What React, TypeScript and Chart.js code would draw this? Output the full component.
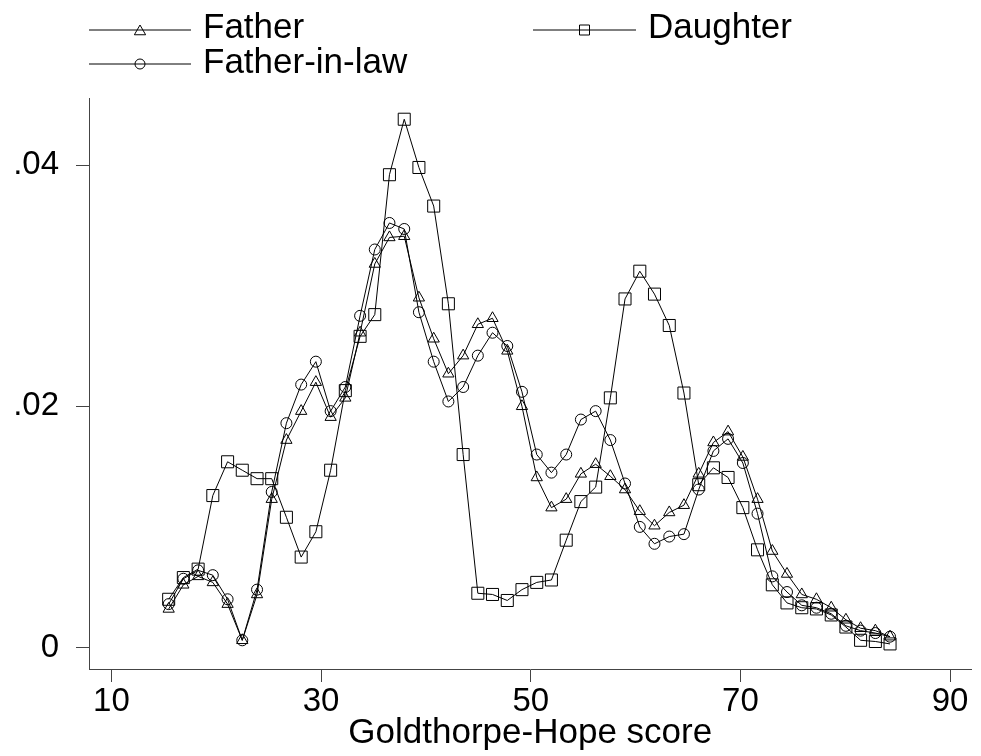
import React, { useEffect, useRef } from 'react';
import { Chart, registerables } from 'chart.js';

Chart.register(...registerables);

// Goldthorpe-Hope score grid (x) at which densities were evaluated
const ghScore = [
  15.46, 16.86, 18.27, 19.67, 21.08, 22.48, 23.89, 25.29, 26.69, 28.1,
  29.5, 30.91, 32.31, 33.72, 35.12, 36.52, 37.93, 39.33, 40.74, 42.14,
  43.55, 44.95, 46.35, 47.76, 49.16, 50.57, 51.97, 53.38, 54.78, 56.19,
  57.59, 58.99, 60.4, 61.8, 63.21, 64.61, 66.02, 67.42, 68.82, 70.23,
  71.63, 73.04, 74.44, 75.85, 77.25, 78.66, 80.06, 81.46, 82.87, 84.27,
];

const fatherDensity = [
  0.0032, 0.0052, 0.0059, 0.0054, 0.0036, 0.0006, 0.0044, 0.0123, 0.0172, 0.0196,
  0.022, 0.0191, 0.0207, 0.0261, 0.0318, 0.034, 0.0341, 0.029, 0.0256, 0.0227,
  0.0242, 0.0268, 0.0273, 0.0246, 0.02, 0.0141, 0.0116, 0.0123, 0.0144, 0.0152,
  0.0142, 0.0131, 0.0113, 0.0101, 0.0112, 0.0118, 0.0144, 0.017, 0.0179, 0.0158,
  0.0123, 0.008, 0.0061, 0.0044, 0.004, 0.0033, 0.0023, 0.0016, 0.0014, 0.0009,
];

const fatherInLawDensity = [
  0.0036, 0.0057, 0.0064, 0.006, 0.004, 0.0006, 0.0048, 0.0129, 0.0186, 0.0218,
  0.0237, 0.0196, 0.0216, 0.0275, 0.033, 0.0352, 0.0347, 0.0278, 0.0237, 0.0204,
  0.0216, 0.0242, 0.0261, 0.025, 0.0212, 0.016, 0.0145, 0.016, 0.0189, 0.0196,
  0.0172, 0.0136, 0.01, 0.0086, 0.0092, 0.0094, 0.0131, 0.0163, 0.0173, 0.0153,
  0.0111, 0.0059, 0.0046, 0.0035, 0.0033, 0.0028, 0.0018, 0.0014, 0.0012, 0.0009,
];

const daughterDensity = [
  0.004, 0.0058, 0.0065, 0.0126, 0.0154, 0.0147, 0.014, 0.014, 0.0108, 0.0075,
  0.0096, 0.0147, 0.0213, 0.0258, 0.0276, 0.0392, 0.0438, 0.0398, 0.0366, 0.0285,
  0.016, 0.0045, 0.0044, 0.0039, 0.0048, 0.0054, 0.0056, 0.0089, 0.0121, 0.0133,
  0.0207, 0.0289, 0.0312, 0.0293, 0.0267, 0.0211, 0.0135, 0.0149, 0.0141, 0.0116,
  0.0081, 0.0052, 0.0037, 0.0033, 0.0032, 0.0027, 0.0017, 0.0006, 0.0005, 0.0003,
];

const seriesLabels = ['Father', 'Daughter', 'Father-in-law'];
const xTickValues = [10, 30, 50, 70, 90];
const yTickValues = [0, 0.02, 0.04];
const xAxisTitle = 'Goldthorpe-Hope score';

const FONT = "'Liberation Sans', Arial, Helvetica, sans-serif";

function drawMarker(ctx: CanvasRenderingContext2D, style: string, x: number, y: number, r: number) {
  ctx.beginPath();
  if (style === 'triangle') {
    const w = r * Math.sin((2 * Math.PI) / 3);
    ctx.moveTo(x, y - r);
    ctx.lineTo(x + w, y + r / 2);
    ctx.lineTo(x - w, y + r / 2);
    ctx.closePath();
  } else if (style === 'circle') {
    ctx.arc(x, y, r, 0, Math.PI * 2);
  } else {
    ctx.rect(x - r, y - r, 2 * r, 2 * r);
  }
  ctx.stroke();
}

const legendPlugin = {
  id: 'stataLegend',
  afterDraw(chart: any) {
    const ctx: CanvasRenderingContext2D = chart.ctx;
    const ds = chart.data.datasets;
    const items = [
      { ds: ds[0], x1: 89, x2: 191, y: 30, style: 'triangle', r: 6.5, my: 31.5, tx: 203, ty: 38 },
      { ds: ds[1], x1: 533, x2: 636, y: 30, style: 'rect', r: 5, my: 30, tx: 648, ty: 38 },
      { ds: ds[2], x1: 89, x2: 191, y: 64, style: 'circle', r: 5, my: 64, tx: 203, ty: 73 },
    ];
    ctx.save();
    ctx.strokeStyle = '#000';
    ctx.lineWidth = 1;
    items.forEach((it) => {
      ctx.beginPath();
      ctx.moveTo(it.x1, it.y);
      ctx.lineTo(it.x2, it.y);
      ctx.stroke();
      const mx = (it.x1 + it.x2) / 2;
      ctx.fillStyle = '#fff';
      drawMarker(ctx, it.style, mx, it.my, it.r);
      ctx.fillStyle = '#000';
      ctx.font = `35px ${FONT}`;
      ctx.textBaseline = 'alphabetic';
      ctx.textAlign = 'left';
      ctx.fillText(it.ds.label, it.tx, it.ty);
    });
    ctx.restore();
  },
};

function buildPoints(values: number[]) {
  return values.map((v, i) => ({ x: ghScore[i], y: v }));
}

export default function App() {
  const canvasRef = useRef<HTMLCanvasElement | null>(null);

  useEffect(() => {
    const canvas = canvasRef.current;
    if (!canvas) return;
    const common = {
      borderColor: '#000',
      borderWidth: 1,
      pointBorderColor: '#000',
      pointBackgroundColor: 'rgba(0,0,0,0)',
      pointBorderWidth: 1,
      fill: false,
      tension: 0,
    };
    const chart = new Chart(canvas, {
      type: 'line',
      data: {
        datasets: [
          { ...common, label: seriesLabels[0], data: buildPoints(fatherDensity), pointStyle: 'triangle', pointRadius: 6.5 },
          { ...common, label: seriesLabels[1], data: buildPoints(daughterDensity), pointStyle: 'rect', pointRadius: 8.5 },
          { ...common, label: seriesLabels[2], data: buildPoints(fatherInLawDensity), pointStyle: 'circle', pointRadius: 5.5 },
        ],
      },
      options: {
        animation: false,
        responsive: false,
        devicePixelRatio: 1,
        layout: { padding: { left: 0, right: 6, top: 98, bottom: 2 } },
        plugins: {
          legend: { display: false },
          tooltip: { enabled: false },
          title: { display: false },
        },
        scales: {
          x: {
            type: 'linear',
            min: 7.86,
            max: 92.04,
            afterBuildTicks: (scale: any) => {
              scale.ticks = xTickValues.map((v) => ({ value: v }));
            },
            afterFit: (scale: any) => {
              scale.height = 85;
            },
            ticks: {
              color: '#000',
              font: { family: FONT, size: 33 },
              padding: 0,
              maxRotation: 0,
              autoSkip: false,
              callback: (v: any) => String(v),
            },
            grid: { drawOnChartArea: false, drawTicks: true, tickLength: 13, color: '#444' },
            border: { display: true, color: '#444', width: 1 },
            title: {
              display: true,
              text: xAxisTitle,
              color: '#000',
              font: { family: FONT, size: 35 },
              padding: { top: 0, bottom: 0 },
            },
          },
          y: {
            type: 'linear',
            min: -0.00178,
            max: 0.04556,
            afterBuildTicks: (scale: any) => {
              scale.ticks = yTickValues.map((v) => ({ value: v }));
            },
            afterFit: (scale: any) => {
              scale.width = 89;
            },
            ticks: {
              color: '#000',
              font: { family: FONT, size: 33 },
              padding: 17,
              autoSkip: false,
              callback: (v: any) => (v === 0 ? '0' : Number(v).toFixed(2).replace(/^0/, '')),
            },
            grid: { drawOnChartArea: false, drawTicks: true, tickLength: 13, color: '#444' },
            border: { display: true, color: '#444', width: 1 },
          },
        },
      },
      plugins: [legendPlugin],
    } as any);
    return () => chart.destroy();
  }, []);

  return (
    <div style={{ position: 'fixed', left: 0, top: 0, width: 981, height: 756, background: '#fff' }}>
      <canvas ref={canvasRef} width={981} height={756} style={{ display: 'block' }} />
    </div>
  );
}
